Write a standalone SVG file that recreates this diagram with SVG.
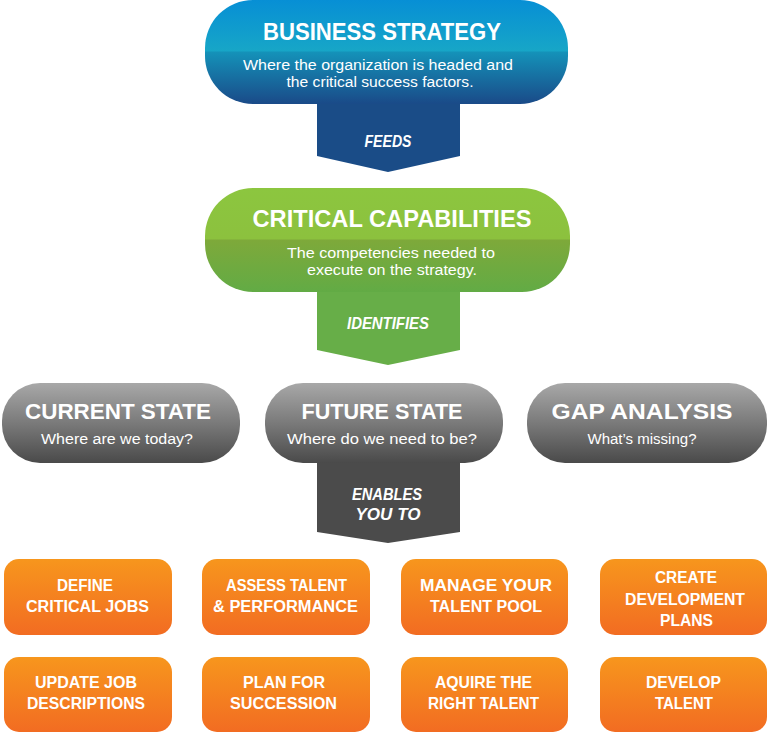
<svg xmlns="http://www.w3.org/2000/svg" width="768" height="733" viewBox="0 0 768 733">
<style>
text{font-family:"Liberation Sans","Arial",sans-serif;fill:#ffffff;text-anchor:middle}
.t{font-weight:bold}
.s{font-weight:normal}
.a{font-weight:bold;font-style:italic}
.o{font-weight:bold;font-size:16px}
</style>
<defs>
<linearGradient id="gBlue" x1="0" y1="0" x2="0" y2="1">
<stop offset="0" stop-color="#078fd5"/>
<stop offset="0.49" stop-color="#17a6c7"/>
<stop offset="0.5" stop-color="#1492b9"/>
<stop offset="1" stop-color="#1a4a88"/>
</linearGradient>
<linearGradient id="gGreen" x1="0" y1="0" x2="0" y2="1">
<stop offset="0" stop-color="#8cc63f"/>
<stop offset="0.49" stop-color="#8cc13e"/>
<stop offset="0.5" stop-color="#7ea93a"/>
<stop offset="1" stop-color="#62ab45"/>
</linearGradient>
<linearGradient id="gGray" x1="0" y1="0" x2="0" y2="1">
<stop offset="0" stop-color="#a8a8a8"/>
<stop offset="0.5" stop-color="#7a7a7a"/>
<stop offset="1" stop-color="#4a4a4a"/>
</linearGradient>
<linearGradient id="gOrange" x1="0" y1="0" x2="0" y2="1">
<stop offset="0" stop-color="#f7961d"/>
<stop offset="1" stop-color="#f26c22"/>
</linearGradient>
</defs>
<rect width="768" height="733" fill="#ffffff"/>

<g id="connectors">
<g id="feeds">
<polygon points="317,96 460,96 460,156 388,172 317,156" fill="#1a4c87"/>
<text class="a" x="388" y="147" font-size="17" textLength="47" lengthAdjust="spacingAndGlyphs">FEEDS</text>
</g>
<g id="identifies">
<polygon points="317,284 460,284 460,350 388,365 317,350" fill="#67ae48"/>
<text class="a" x="388" y="329" font-size="17" textLength="82" lengthAdjust="spacingAndGlyphs">IDENTIFIES</text>
</g>
<g id="enables">
<polygon points="317,455 460,455 460,532 388,543 317,532" fill="#4b4b4b"/>
<text class="a" x="387" y="500" font-size="16" textLength="70" lengthAdjust="spacingAndGlyphs">ENABLES</text>
<text class="a" x="388" y="520" font-size="16" textLength="65" lengthAdjust="spacingAndGlyphs">YOU TO</text>
</g>
</g>

<g id="business-strategy">
<rect x="205" y="0" width="363" height="104" rx="48" ry="48" fill="url(#gBlue)"/>
<text class="t" x="382" y="40" font-size="24" textLength="238" lengthAdjust="spacingAndGlyphs">BUSINESS STRATEGY</text>
<text class="s" x="378" y="70" font-size="14" textLength="270" lengthAdjust="spacingAndGlyphs">Where the organization is headed and</text>
<text class="s" x="380" y="87" font-size="14" textLength="187" lengthAdjust="spacingAndGlyphs">the critical success factors.</text>
</g>

<g id="critical-capabilities">
<rect x="205" y="188" width="365" height="104" rx="48" ry="48" fill="url(#gGreen)"/>
<text class="t" x="392" y="227" font-size="24" textLength="279" lengthAdjust="spacingAndGlyphs">CRITICAL CAPABILITIES</text>
<text class="s" x="391" y="258" font-size="14" textLength="208" lengthAdjust="spacingAndGlyphs">The competencies needed to</text>
<text class="s" x="392" y="275" font-size="14" textLength="170" lengthAdjust="spacingAndGlyphs">execute on the strategy.</text>
</g>

<g id="current-state">
<rect x="2" y="383" width="238" height="80" rx="38" ry="38" fill="url(#gGray)"/>
<text class="t" x="118" y="419" font-size="22" textLength="186" lengthAdjust="spacingAndGlyphs">CURRENT STATE</text>
<text class="s" x="117" y="444" font-size="14" textLength="152" lengthAdjust="spacingAndGlyphs">Where are we today?</text>
</g>

<g id="future-state">
<rect x="265" y="383" width="238" height="80" rx="38" ry="38" fill="url(#gGray)"/>
<text class="t" x="382" y="419" font-size="22" textLength="161" lengthAdjust="spacingAndGlyphs">FUTURE STATE</text>
<text class="s" x="382" y="444" font-size="14" textLength="190" lengthAdjust="spacingAndGlyphs">Where do we need to be?</text>
</g>

<g id="gap-analysis">
<rect x="527" y="383" width="240" height="80" rx="38" ry="38" fill="url(#gGray)"/>
<text class="t" x="642" y="419" font-size="22" textLength="181" lengthAdjust="spacingAndGlyphs">GAP ANALYSIS</text>
<text class="s" x="642" y="444" font-size="14" textLength="109" lengthAdjust="spacingAndGlyphs">What’s missing?</text>
</g>

<g id="define-critical-jobs">
<rect x="4" y="559" width="168" height="76" rx="15" fill="url(#gOrange)"/>
<text class="o" x="85" y="591" textLength="56" lengthAdjust="spacingAndGlyphs">DEFINE</text>
<text class="o" x="87.5" y="612" textLength="123" lengthAdjust="spacingAndGlyphs">CRITICAL JOBS</text>
</g>
<g id="assess-talent">
<rect x="202" y="559" width="168" height="76" rx="15" fill="url(#gOrange)"/>
<text class="o" x="286.5" y="591" textLength="121" lengthAdjust="spacingAndGlyphs">ASSESS TALENT</text>
<text class="o" x="285.5" y="612" textLength="145" lengthAdjust="spacingAndGlyphs">&amp; PERFORMANCE</text>
</g>
<g id="manage-talent-pool">
<rect x="401" y="559" width="167" height="76" rx="15" fill="url(#gOrange)"/>
<text class="o" x="486" y="591" textLength="132" lengthAdjust="spacingAndGlyphs">MANAGE YOUR</text>
<text class="o" x="486" y="612" textLength="112" lengthAdjust="spacingAndGlyphs">TALENT POOL</text>
</g>
<g id="create-development-plans">
<rect x="600" y="559" width="167" height="76" rx="15" fill="url(#gOrange)"/>
<text class="o" x="686" y="583" textLength="62" lengthAdjust="spacingAndGlyphs">CREATE</text>
<text class="o" x="685" y="605" textLength="120" lengthAdjust="spacingAndGlyphs">DEVELOPMENT</text>
<text class="o" x="686.5" y="626" textLength="53" lengthAdjust="spacingAndGlyphs">PLANS</text>
</g>
<g id="update-job-descriptions">
<rect x="4" y="657" width="168" height="75" rx="15" fill="url(#gOrange)"/>
<text class="o" x="86" y="688" textLength="102" lengthAdjust="spacingAndGlyphs">UPDATE JOB</text>
<text class="o" x="86" y="709" textLength="118" lengthAdjust="spacingAndGlyphs">DESCRIPTIONS</text>
</g>
<g id="plan-for-succession">
<rect x="202" y="657" width="168" height="75" rx="15" fill="url(#gOrange)"/>
<text class="o" x="284" y="688" textLength="82" lengthAdjust="spacingAndGlyphs">PLAN FOR</text>
<text class="o" x="283.5" y="709" textLength="107" lengthAdjust="spacingAndGlyphs">SUCCESSION</text>
</g>
<g id="aquire-right-talent">
<rect x="401" y="657" width="167" height="75" rx="15" fill="url(#gOrange)"/>
<text class="o" x="483.5" y="688" textLength="97" lengthAdjust="spacingAndGlyphs">AQUIRE THE</text>
<text class="o" x="483.5" y="709" textLength="111" lengthAdjust="spacingAndGlyphs">RIGHT TALENT</text>
</g>
<g id="develop-talent">
<rect x="600" y="657" width="167" height="75" rx="15" fill="url(#gOrange)"/>
<text class="o" x="683.5" y="688" textLength="75" lengthAdjust="spacingAndGlyphs">DEVELOP</text>
<text class="o" x="684" y="709" textLength="58" lengthAdjust="spacingAndGlyphs">TALENT</text>
</g>
</svg>
